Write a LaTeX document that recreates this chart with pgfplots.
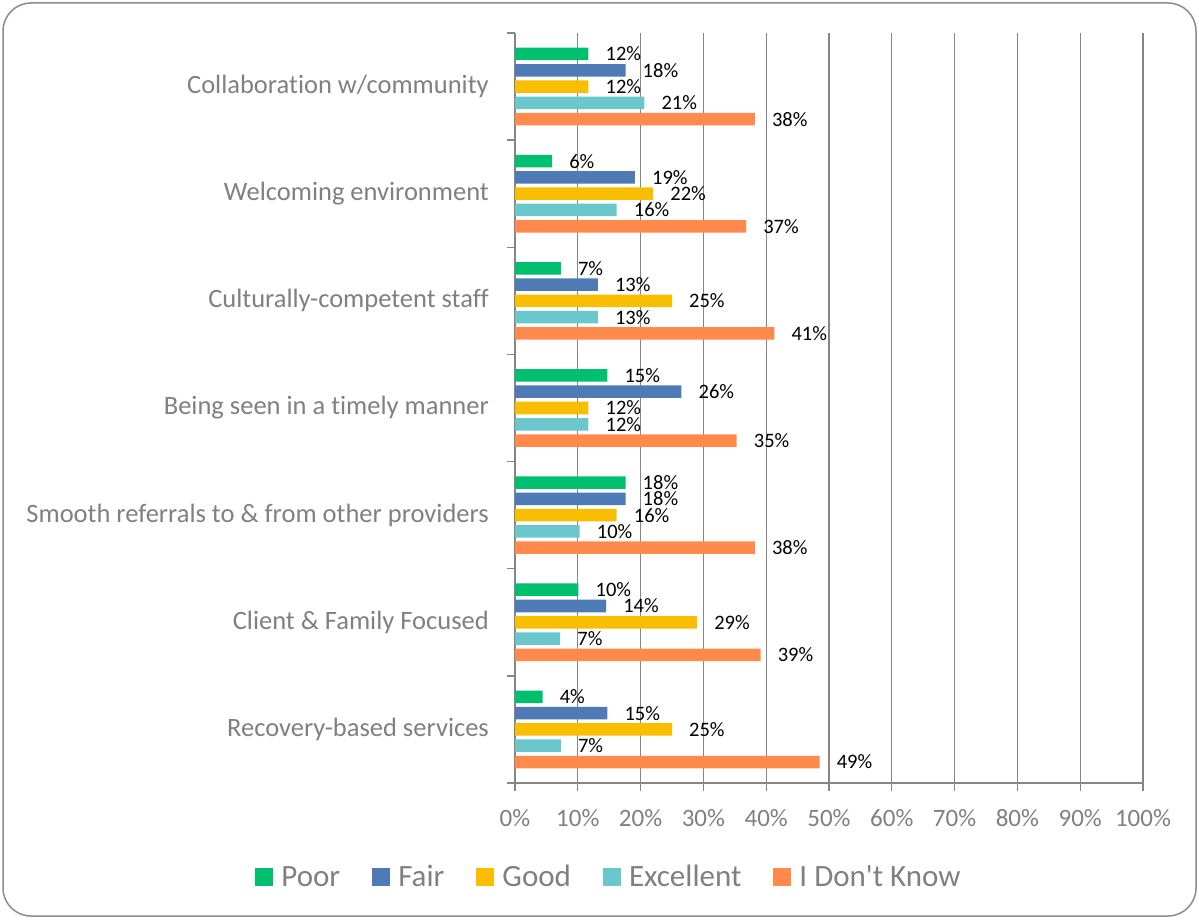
\documentclass[border=0pt]{standalone}
\usepackage{pgfplots}
\pgfplotsset{compat=1.18}
\usepackage{fontspec}
\setmainfont{Carlito}[Ligatures={TeXOff,NoCommon}, RawFeature={-liga;-clig;-calt;-dlig}]
\definecolor{cPoor}{RGB}{0,191,111}
\definecolor{cFair}{RGB}{78,123,182}
\definecolor{cGood}{RGB}{250,190,0}
\definecolor{cExc}{RGB}{106,200,204}
\definecolor{cIdk}{RGB}{255,138,76}
\definecolor{txtgray}{RGB}{128,128,128}
\definecolor{gridgray}{RGB}{134,134,134}
\definecolor{bordergray}{RGB}{140,140,140}
\begin{document}
\begin{tikzpicture}
\useasboundingbox (0,0) rectangle (1199pt,919pt);
\begin{axis}[
  at={(515pt,136pt)}, anchor=south west,
  scale only axis, width=628pt, height=750pt,
  xmin=0, xmax=100, ymin=-0.5, ymax=6.5,
  xbar, bar width=0.1167,
  axis x line*=bottom, axis y line*=left,
  axis line style={draw=gridgray, line width=1.3pt},
  xtick={0,10,...,100},
  xticklabels={0\%,10\%,20\%,30\%,40\%,50\%,60\%,70\%,80\%,90\%,100\%},
  xmajorgrids, major grid style={draw=gridgray, line width=1.3pt},
  ytick={-0.5,0.5,...,6.5}, yticklabels={},
  extra y ticks={0,1,2,3,4,5,6},
  extra y tick labels={Recovery-based services, Client \& Family Focused, Smooth referrals to \& from other providers, Being seen in a timely manner, Culturally-competent staff, Welcoming environment, Collaboration w/community},
  extra y tick style={major tick length=0pt, grid=none},
  tick align=outside, major tick length=8pt,
  tick style={draw=gridgray, line width=1.3pt},
  xticklabel style={font=\fontsize{25}{30}\selectfont, text=txtgray, inner sep=0pt, anchor=north, yshift=-18pt},
  yticklabel style={font=\fontsize{26.5}{32}\selectfont, text=txtgray, inner sep=0pt, anchor=east, xshift=-26pt},
  point meta=explicit symbolic,
  nodes near coords={\pgfplotspointmeta\%},
  nodes near coords style={font=\fontsize{20.5}{24}\selectfont, text=black, anchor=west, inner sep=0pt, xshift=17pt},
  legend image code/.code={\fill[#1] (0pt,-9pt) rectangle (18pt,9pt);},
  legend columns=-1,
  legend style={draw=none, fill=none, at={(0.148,-0.1253)}, anchor=center,
    font=\fontsize{31}{36}\selectfont, text=txtgray,
    nodes={inner sep=0pt},
    /tikz/every odd column/.append style={column sep=8pt},
    /tikz/every even column/.append style={column sep=32pt}},
  clip=false,
]
\addplot[fill=cPoor, draw=none, bar shift=0.304] coordinates {
 (11.7,6) [12] (5.9,5) [6] (7.3,4) [7] (14.7,3) [15] (17.6,2) [18] (10.1,1) [10] (4.4,0) [4]};
\addplot[fill=cFair, draw=none, bar shift=0.152] coordinates {
 (17.6,6) [18] (19.1,5) [19] (13.2,4) [13] (26.5,3) [26] (17.6,2) [18] (14.5,1) [14] (14.7,0) [15]};
\addplot[fill=cGood, draw=none, bar shift=0] coordinates {
 (11.7,6) [12] (22.0,5) [22] (25.0,4) [25] (11.7,3) [12] (16.2,2) [16] (29.0,1) [29] (25.0,0) [25]};
\addplot[fill=cExc, draw=none, bar shift=-0.152] coordinates {
 (20.6,6) [21] (16.2,5) [16] (13.2,4) [13] (11.7,3) [12] (10.3,2) [10] (7.2,1) [7] (7.3,0) [7]};
\addplot[fill=cIdk, draw=none, bar shift=-0.304] coordinates {
 (38.2,6) [38] (36.8,5) [37] (41.3,4) [41] (35.3,3) [35] (38.2,2) [38] (39.1,1) [39] (48.5,0) [49]};
\legend{Poor, Fair, Good, Excellent, I Don't Know}
\end{axis}
\draw[bordergray, line width=1.5pt, rounded corners=28pt] (3pt,3pt) rectangle (1196pt,916pt);
\end{tikzpicture}
\end{document}
